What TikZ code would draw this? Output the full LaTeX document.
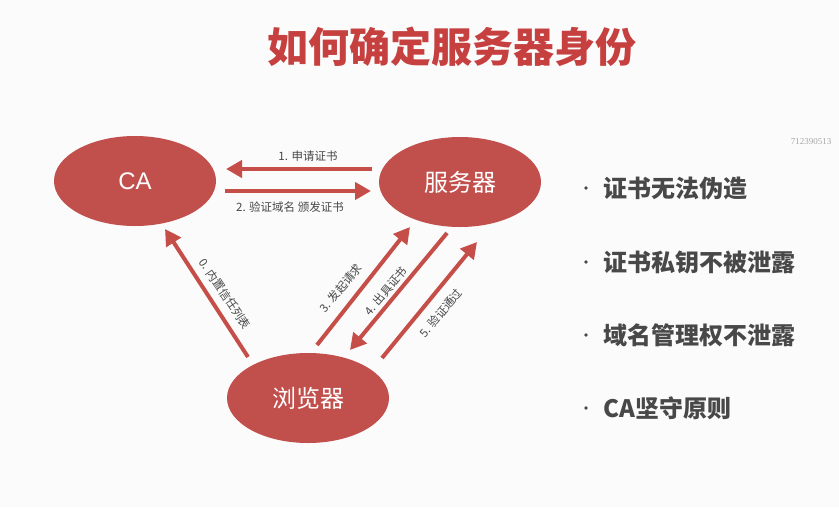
\documentclass[tikz,border=0pt]{standalone}
\usepackage{fontspec}
\setmainfont{Noto Sans CJK SC}
\newfontfamily\latinsans{Liberation Sans}
\newfontfamily\serifnum{Liberation Serif}
\usetikzlibrary{shapes.geometric,arrows.meta,calc}
\definecolor{ovalred}{RGB}{193,80,77}
\definecolor{arrowred}{RGB}{198,78,72}
\definecolor{titlered}{RGB}{197,64,62}
\definecolor{textgray}{RGB}{72,72,72}
\definecolor{bg}{RGB}{251,251,251}
\begin{document}
\begin{tikzpicture}[x=1pt,y=-1pt,
  party/.style={ellipse,fill=ovalred,draw=none,minimum width=162pt,minimum height=90pt,
    inner sep=0pt,text=white,font=\fontsize{24}{26}\selectfont},
  flow/.style={draw=arrowred,line width=4pt,-{Triangle[length=16pt,width=17pt]}},
  steplabel/.style={font=\fontsize{11.5}{13}\selectfont,text=textgray,inner sep=1pt},
  point/.style={anchor=west,font=\bfseries\fontsize{24}{26}\selectfont,text=textgray,inner sep=0pt}]
  \useasboundingbox (0,0) rectangle (839,507);
  \fill[bg] (0,0) rectangle (839,507);

  % heading
  \node[font=\bfseries\fontsize{41}{44}\selectfont,text=titlered] (title) at (452,47) {如何确定服务器身份};

  % the three parties
  \node[party] (ca)  at (135,181) {\latinsans CA};
  \node[party] (srv) at (460,182) {服务器};
  \node[party] (br)  at (308,398) {浏览器};

  % message flow
  \draw[flow] ($(srv)+(-88,-13)$) -- ($(ca)+(91,-12)$);
  \draw[flow] ($(ca)+(90,10)$) -- ($(srv)+(-89,9)$);
  \draw[flow] ($(br)+(-60,-41)$) -- ($(ca)+(30,48)$);
  \draw[flow] ($(br)+(9,-53)$) -- ($(srv)+(-50,45)$);
  \draw[flow] ($(srv)+(-13,51)$) -- ($(br)+(42,-48)$);
  \draw[flow] ($(br)+(74,-40)$) -- ($(srv)+(17,60)$);

  % step labels
  \node[steplabel] (l1) at (308,156) {1. 申请证书};
  \node[steplabel] (l2) at (290,207) {2. 验证域名 颁发证书};
  \node[steplabel,rotate=-56] (l0) at (225,294) {0. 内置信任列表};
  \node[steplabel,rotate=50] (l3) at (341,288) {3. 发起请求};
  \node[steplabel,rotate=50] (l4) at (386,291) {4. 出具证书};
  \node[steplabel,rotate=50] (l5) at (441,313) {5. 验证通过};

  % requirements list
  \foreach \y/\t [count=\i] in {188/证书无法伪造,262/证书私钥不被泄露,335/域名管理权不泄露,408/CA坚守原则}{
    \fill[textgray] (586,\y) circle (1.8pt);
    \node[point] (req\i) at (603,\y) {\t};
  }

  % watermark number
  \node[font=\serifnum\fontsize{9}{10}\selectfont,text=black!35] (mark) at (811,142) {712390513};
\end{tikzpicture}
\end{document}
